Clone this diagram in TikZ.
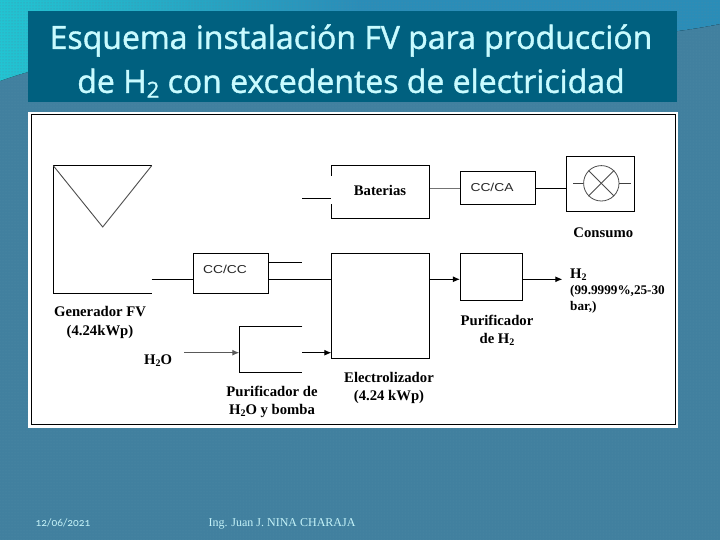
\documentclass[tikz,border=0pt]{standalone}
\usepackage{fontspec}
\usetikzlibrary{arrows.meta,patterns}
\setmainfont{Liberation Serif}
\newfontfamily\titlefont[FakeBold=1.3]{Open Sans}
\newfontfamily\labelsans{Liberation Sans}
\newfontfamily\footfont[Numbers=OldStyle]{Carlito}
\newcommand{\titlesub}[1]{\raisebox{-0.28ex}{\fontsize{22}{22}\selectfont #1}}
\newcommand{\labsub}[1]{\raisebox{-0.3ex}{\fontsize{10}{10}\selectfont #1}}
\newcommand{\wide}[1]{\scalebox{1.2}[1]{#1}}
\definecolor{bgblue}{HTML}{41809F}
\definecolor{bgdot}{HTML}{4F8CA6}
\definecolor{barblue}{HTML}{00607F}
\definecolor{titletxt}{HTML}{C9FBFF}
\definecolor{foottxt}{HTML}{C4F2F8}
\definecolor{swooshl}{HTML}{22C4D2}
\definecolor{swooshr}{HTML}{2A8DB8}
\tikzset{
  wire/.style={draw=black,line width=0.9pt},
  flow/.style={wire,-{Latex[length=7pt,width=6pt]}},
  boxed/.style={draw=black,line width=0.9pt,fill=white,minimum width=0pt,minimum height=0pt,inner sep=0pt},
  lab/.style={font=\fontsize{14.7}{16}\selectfont\bfseries,align=center,inner sep=0pt,text=black},
  smalllab/.style={font=\fontsize{13.2}{14}\selectfont\bfseries,anchor=west,inner sep=0pt,text=black},
  sanslab/.style={font=\labelsans\fontsize{11.5}{13}\selectfont,inner sep=0pt,text=black!85},
  foot/.style={text=foottxt,inner sep=0pt,anchor=base},
}
\begin{document}
\begin{tikzpicture}[x=1pt,y=-1pt]
\useasboundingbox (0,0) rectangle (720,540);
% background
\fill[bgblue] (0,0) rectangle (720,540);
\fill[left color=swooshl,right color=swooshr,middle color=swooshr]
  (0,0) -- (720,0) -- (720,24) .. controls (690,30) and (660,34) .. (620,36)
  -- (120,56) .. controls (70,60) and (30,70) .. (0,81) -- cycle;
\fill[pattern=dots,pattern color=bgdot] (0,0) rectangle (720,540);
% title bar
\fill[barblue] (28,11) rectangle (677,102);
\node[font=\titlefont\fontsize{32}{44}\selectfont,text=titletxt,align=center,inner sep=0pt,anchor=center] (title) at (351,61)
  {Esquema instalación FV para producción\\de H\titlesub{2} con excedentes de electricidad};
% white panel
\fill[white] (28,112) rectangle (678,428);
\draw[black,line width=1pt] (31,114.7) rectangle (675.7,424);
% boxes
\coordinate (pvtl) at (53.3,165.7);
\coordinate (pvtr) at (151.7,165.7);
\coordinate (pvbr) at (151.7,293);
\coordinate (pvbl) at (53.3,293);
\coordinate (pvv) at (102.7,227);
\draw[wire] (pvtr) -- (pvtl) -- (pvbl) -- (pvbr);
\draw[wire,draw=black!70] (pvtl) -- (pvv) -- (pvtr);
\node[boxed,minimum width=75.4pt,minimum height=40pt] (ccc) at (231,273.3) {};
\node[boxed,minimum width=98.4pt,minimum height=53pt] (bat) at (380.5,191.8) {};
\node[boxed,minimum width=98.4pt,minimum height=105pt] (ely) at (380.5,305.8) {};
\node[boxed,minimum width=75pt,minimum height=33pt] (cca) at (497.8,187.8) {};
\node[boxed,minimum width=68pt,minimum height=55pt] (con) at (600.3,183.8) {};
\node[boxed,minimum width=62pt,minimum height=47pt] (ph2) at (491.3,276.8) {};
% gap in the left side of the batteries box
\fill[white] (330,175.7) rectangle (332.5,204.3);
% water purifier, open on the right
\coordinate (pwtr) at (302.3,326.3);
\coordinate (pwtl) at (239.3,326.3);
\coordinate (pwbl) at (239.3,372.3);
\coordinate (pwbr) at (302.3,372.3);
\draw[wire] (pwtr) -- (pwtl) -- (pwbl) -- (pwbr);
% connectors
\coordinate (pvout) at (151.7,279.3);
\coordinate (cccup) at (302.3,262.3);
\coordinate (batin) at (302.3,198.3);
\coordinate (batin2) at (331.3,198.3);
\coordinate (h2oin) at (184,352.7);
\coordinate (pwin) at (239.3,352.7);
\coordinate (pwout) at (302.3,352.7);
\coordinate (elyin) at (331.3,352.7);
\coordinate (h2out) at (562.3,279.3);
\coordinate (bus) at (450,188.7);
\draw[wire] (pvout) -- (ccc.west |- pvout);
\draw[wire] (ccc.east |- cccup) -- (cccup);
\draw[wire] (ccc.east |- pvout) -- (ely.west |- pvout);
\draw[wire] (batin) -- (batin2);
\draw[flow,draw=black!65,line width=1.2pt] (h2oin) -- (pwin);
\draw[flow] (pwout) -- (elyin);
\draw[flow] (ely.east |- pvout) -- (ph2.west |- pvout);
\draw[flow] (ph2.east |- pvout) -- (h2out);
\draw[draw=black!55,line width=1.6pt] (bat.east |- bus) -- (cca.west |- bus);
\draw[wire] (cca.east |- bus) -- (con.west |- bus);
% lamp
\node[draw=black!70,line width=0.8pt,circle,minimum size=35.4pt,inner sep=0pt] (lamp) at (601.3,183.3) {};
\coordinate (lampl) at (573,183.3);
\coordinate (lampr) at (630.7,183.3);
\draw[wire,draw=black!75] (lampl) -- (lamp.west);
\draw[wire,draw=black!75] (lamp.east) -- (lampr);
\draw[wire,draw=black!70] (lamp.north west) -- (lamp.south east);
\draw[wire,draw=black!70] (lamp.north east) -- (lamp.south west);
% labels
\node[lab] (t1) at (100,312) {Generador FV};
\node[lab] (t2) at (100,332) {(4.24kWp)};
\node[lab] (t3) at (158,361) {H\labsub{2}O};
\node[lab] (t4) at (272,391.7) {Purificador de};
\node[lab] (t5) at (272,410.7) {H\labsub{2}O y bomba};
\node[lab] (t6) at (389,377) {Electrolizador};
\node[lab] (t7) at (389,397) {(4.24 kWp)};
\node[lab] (t8) at (380,190.5) {Baterias};
\node[lab] (t9) at (603.3,232.7) {Consumo};
\node[lab] (t10) at (497,320) {Purificador};
\node[lab] (t11) at (497,339) {de H\labsub{2}};
\node[lab,anchor=west] (t12) at (570,274.7) {H\labsub{2}};
\node[smalllab] (t13) at (570,291.7) {(99.9999\%,25-30};
\node[smalllab] (t14) at (570,307.3) {bar,)};
\node[sanslab] (t15) at (225,269) {\wide{CC/CC}};
\node[sanslab] (t16) at (492,187) {\wide{CC/CA}};
% footer
\node[foot,font=\footfont\fontsize{11.3}{13}\selectfont] (d) at (63,526) {12/06/2021};
\node[foot,font=\fontsize{12}{14}\selectfont] (a) at (282,526) {Ing. Juan J. NINA CHARAJA};
\end{tikzpicture}
\end{document}
